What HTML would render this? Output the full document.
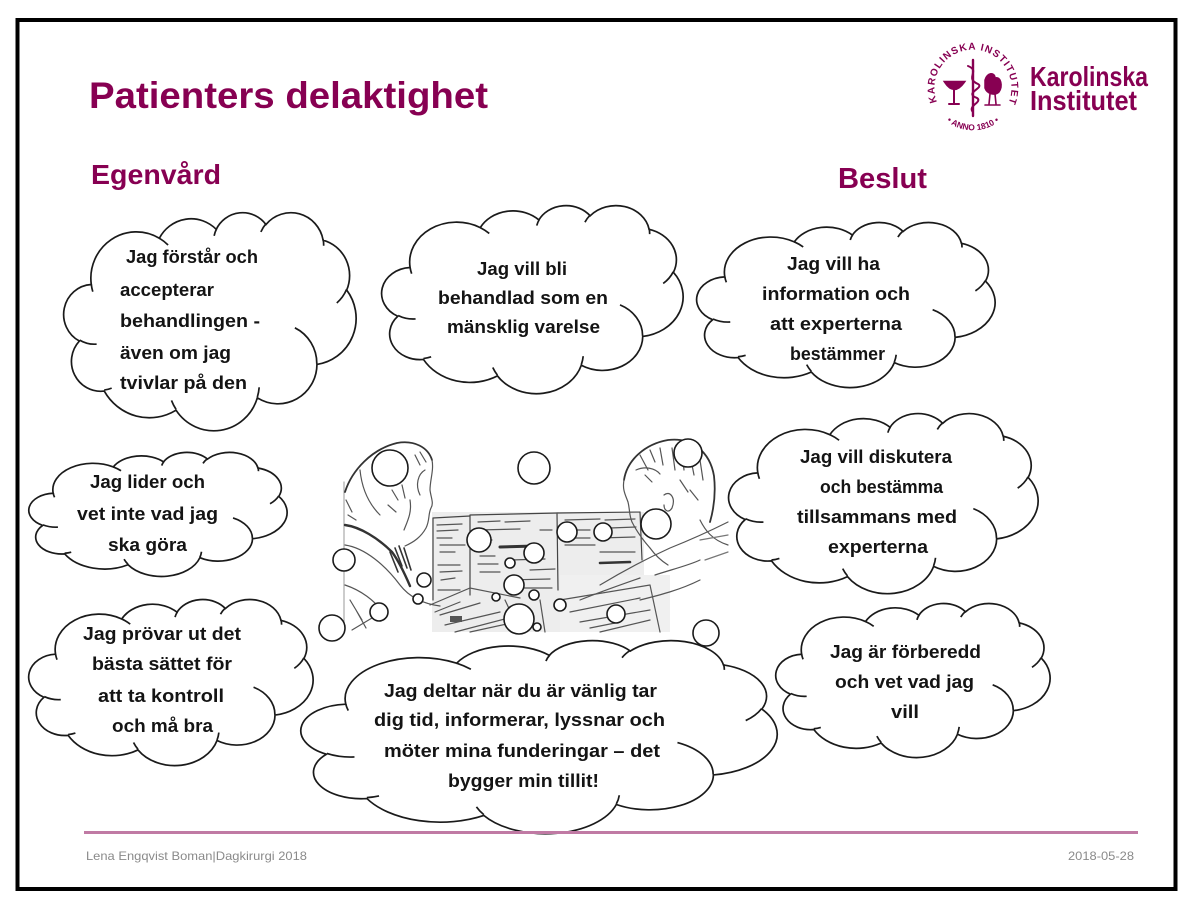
<!DOCTYPE html>
<html><head><meta charset="utf-8">
<style>
html,body{margin:0;padding:0;background:#fff;}
svg{display:block;}
.t{font-family:"Liberation Sans",Arial,sans-serif;font-weight:bold;font-size:18px;fill:#141414;}
.h{font-family:"Liberation Sans",Arial,sans-serif;font-weight:bold;fill:#870052;}
.cl{fill:#fff;stroke:#1a1a1a;stroke-width:1.7;vector-effect:non-scaling-stroke;}
.ci{fill:none;stroke:#1a1a1a;stroke-width:1.7;vector-effect:non-scaling-stroke;}
.b{fill:#fff;stroke:#1a1a1a;stroke-width:1.6;}
.sk{fill:none;stroke:#555;stroke-width:1.2;stroke-linecap:round;}
.f{font-family:"Liberation Sans",Arial,sans-serif;font-size:12px;fill:#8a8a8a;}
</style></head><body>
<svg width="1198" height="909" viewBox="0 0 1198 909" xmlns="http://www.w3.org/2000/svg">
<rect x="0" y="0" width="1198" height="909" fill="#fff"/>

<!-- Title -->
<text class="h" x="89" y="108" font-size="37" textLength="399" lengthAdjust="spacingAndGlyphs">Patienters delaktighet</text>
<text class="h" x="91" y="184" font-size="28" textLength="130" lengthAdjust="spacingAndGlyphs">Egenvård</text>
<text class="h" x="838" y="188" font-size="29" textLength="89" lengthAdjust="spacingAndGlyphs">Beslut</text>

<!-- Logo -->
<g transform="translate(973 88)" fill="#870052" stroke="none">
  <path id="sealTop" d="M-36,14 A38.5,38.5 0 1 1 34,18" fill="none"/>
  <path id="sealBot" d="M-34,25 A42,42 0 0 0 34,25" fill="none"/>
  <text font-family="'Liberation Sans',Arial,sans-serif" font-size="10" font-weight="bold" fill="#870052"><textPath href="#sealTop" textLength="150" lengthAdjust="spacing">KAROLINSKA INSTITUTET</textPath></text>
  <text font-family="'Liberation Sans',Arial,sans-serif" font-size="8.5" font-weight="bold" fill="#870052" text-anchor="middle"><textPath href="#sealBot" startOffset="50%">• ANNO 1810 •</textPath></text>
  <g fill="none" stroke="#870052" stroke-width="2.4" stroke-linecap="round">
    <path d="M0,-28 L0,28"/>
    <path d="M-5,-22 C8,-17 -9,-10 5,-4 C12,0 -10,5 4,10 C10,14 -6,18 0,24" stroke-width="2"/>
    <path d="M-28,-6 Q-19,8 -9,-6 Z" fill="#870052"/>
    <path d="M-19,0 L-19,15 M-24,16 L-14,16" stroke-width="2"/>
    <path d="M12,-8 C14,-16 22,-16 22,-10 C28,-12 30,-2 26,4 C22,8 14,6 12,0 Z" fill="#870052" stroke-width="1.5"/>
    <path d="M17,6 L16,16 M22,6 L23,16 M12,17 L27,17" stroke-width="1.6"/>
  </g>
</g>
<text class="h" x="1030" y="86" font-size="28" textLength="118" lengthAdjust="spacingAndGlyphs">Karolinska</text>
<text class="h" x="1030" y="110" font-size="28" textLength="107" lengthAdjust="spacingAndGlyphs">Institutet</text>

<!-- Photo sketch -->
<rect x="432" y="512" width="212" height="120" fill="#ededed"/>
<rect x="560" y="575" width="110" height="57" fill="#f0f0f0"/>
<g class="sk">
  <path d="M344,482 L344,632" stroke="#aaa"/>
  <!-- woman -->
  <path d="M345,492 C352,470 372,449 397,443 C414,440 428,447 432,460" stroke-width="1.8" stroke="#333"/>
  <path d="M432,460 C434,470 430,480 430,490 C431,498 434,503 431,508 C428,514 430,520 426,528 C421,537 414,542 405,546"/>
  <path d="M425,470 C418,474 415,485 420,495"/>
  <path d="M345,525 C360,527 378,538 392,552 C398,560 404,572 410,586" stroke-width="2.4" stroke="#333"/>
  <path d="M345,545 C365,548 385,565 400,585 C410,598 425,604 440,606"/>
  <path d="M360,470 C362,490 370,505 380,515"/>
  <path d="M410,500 C412,512 408,520 404,530"/>
  <path d="M395,548 L402,566 M399,546 L407,568 M404,548 L411,570 M390,552 L398,572" stroke="#333" stroke-width="1.6"/>
  <path d="M346,500 L352,512 M348,515 L356,520 M350,600 L362,620 M356,610 L366,628"/>
  <path d="M392,490 L398,500 M402,485 L405,498 M388,505 L396,512 M415,455 L420,465 M420,452 L426,462"/>
  <path d="M345,585 C360,590 375,600 385,615 M352,630 L372,618"/>
  <!-- documents -->
  <path d="M433,518 L433,600 M433,518 L470,516" stroke="#444"/>
  <path d="M437,525 L462,524 M437,531 L458,530 M440,545 L465,545 M440,552 L455,552 M438,565 L460,565 M441,580 L455,578 M437,538 L452,538 M440,572 L462,571 M438,590 L460,590"/>
  <path d="M470,515 L470,595 M470,515 L558,513 M557,513 L558,590" stroke="#444"/>
  <path d="M478,522 L500,521 M505,522 L530,521 M478,530 L520,529 M480,556 L495,556 M510,560 L545,559 M530,570 L555,569 M480,572 L500,572 M505,580 L550,579 M478,540 L492,540 M478,564 L498,564 M540,530 L552,530 M520,588 L552,588"/>
  <path d="M500,547 L535,546" stroke-width="3" stroke="#333"/>
  <path d="M558,513 L640,512 M640,512 L642,560" stroke="#444"/>
  <path d="M565,520 L600,519 M605,520 L635,519 M565,530 L590,530 M600,538 L635,537 M565,545 L595,545 M600,552 L635,552 M610,528 L636,527 M565,538 L590,538"/>
  <path d="M600,563 L630,562" stroke-width="2.6" stroke="#333"/>
  <path d="M430,605 L470,588 L520,598 M440,615 L480,603 M445,625 L500,612 M455,632 L520,615 M470,632 L525,620 M435,612 L460,602"/>
  <path d="M505,600 L520,632 M540,600 L545,632"/>
  <path d="M560,600 L650,585 M570,612 L640,598 M580,622 L650,610 M600,632 L650,620 M650,585 L660,632 M590,628 L620,622"/>
  <rect x="450" y="616" width="12" height="6" fill="#555" stroke="none"/>
  <!-- man -->
  <path d="M624,480 C627,460 645,444 668,440 C692,437 710,452 714,476 C716,494 714,508 710,522" stroke-width="1.8" stroke="#333"/>
  <path d="M624,480 C622,490 626,496 628,502 C630,510 629,515 632,522 C637,532 643,540 650,548"/>
  <path d="M636,470 C645,466 655,468 660,474"/>
  <path d="M640,455 L648,470 M650,450 L655,462 M660,448 L663,465 M672,448 L675,470 M682,452 L684,470 M690,455 L694,475 M700,460 L703,480 M645,475 L652,482 M680,480 L688,492 M690,490 L698,500"/>
  <path d="M664,495 C670,490 676,498 672,508 C668,514 664,510 664,505"/>
  <path d="M650,548 C655,555 660,560 668,565 M700,520 C705,530 712,540 728,545"/>
  <path d="M600,585 C625,570 648,558 670,548 C690,540 712,530 728,522"/>
  <path d="M580,600 C600,592 620,585 640,578 M655,575 C670,570 690,565 700,560 M640,600 C660,595 680,590 700,580"/>
  <path d="M700,540 L728,535 M705,560 L728,552" stroke="#777"/>
</g>

<!-- Clouds -->
<g transform="translate(65 212) scale(2.91 2.18)">
  <path class="cl" d="M9.03,33.26A15.63,21.27 0 0 1 32.42,12.04A12.34,16.82 0 0 1 51.97,7.95A10.10,13.76 0 0 1 69.05,5.75A11.24,15.27 0 0 1 88.70,12.91A12.34,16.84 0 0 1 96.80,35.81A15.68,21.34 0 0 1 86.58,69.93A13.39,18.21 0 0 1 66.10,85.23A15.63,21.33 0 0 1 38.16,90.92A17.87,24.41 0 0 1 13.49,82.15A10.09,13.70 0 0 1 4.93,59.19A10.06,13.76 0 0 1 9.03,33.26Z"/>
  <path class="ci" d="M10.86,60.60A10.06,13.76 0 0 1 5.03,58.77M16.04,80.78A10.09,13.70 0 0 1 13.47,81.67M38.14,90.49A15.63,21.33 0 0 1 36.59,86.45M66.73,80.44A15.63,21.33 0 0 1 66.11,84.87M79.00,53.13A13.39,18.21 0 0 1 86.53,69.65M96.75,35.54A12.34,16.84 0 0 1 93.40,41.74M88.71,12.56A11.24,15.27 0 0 1 88.89,15.48M67.31,9.15A11.24,15.27 0 0 1 69.03,5.42M51.25,10.93A10.10,13.76 0 0 1 52.09,7.71M32.41,12.02A15.63,21.27 0 0 1 35.42,15.14M9.55,36.55A15.63,21.27 0 0 1 9.03,33.26"/>
</g>
<g transform="translate(30 452) scale(2.57 1.24)">
  <path class="cl" d="M9.03,33.26A15.63,21.27 0 0 1 32.42,12.04A12.34,16.82 0 0 1 51.97,7.95A10.10,13.76 0 0 1 69.05,5.75A11.24,15.27 0 0 1 88.70,12.91A12.34,16.84 0 0 1 96.80,35.81A15.68,21.34 0 0 1 86.58,69.93A13.39,18.21 0 0 1 66.10,85.23A15.63,21.33 0 0 1 38.16,90.92A17.87,24.41 0 0 1 13.49,82.15A10.09,13.70 0 0 1 4.93,59.19A10.06,13.76 0 0 1 9.03,33.26Z"/>
  <path class="ci" d="M10.86,60.60A10.06,13.76 0 0 1 5.03,58.77M16.04,80.78A10.09,13.70 0 0 1 13.47,81.67M38.14,90.49A15.63,21.33 0 0 1 36.59,86.45M66.73,80.44A15.63,21.33 0 0 1 66.11,84.87M79.00,53.13A13.39,18.21 0 0 1 86.53,69.65M96.75,35.54A12.34,16.84 0 0 1 93.40,41.74M88.71,12.56A11.24,15.27 0 0 1 88.89,15.48M67.31,9.15A11.24,15.27 0 0 1 69.03,5.42M51.25,10.93A10.10,13.76 0 0 1 52.09,7.71M32.41,12.02A15.63,21.27 0 0 1 35.42,15.14M9.55,36.55A15.63,21.27 0 0 1 9.03,33.26"/>
</g>
<g transform="translate(30 599) scale(2.83 1.66)">
  <path class="cl" d="M9.03,33.26A15.63,21.27 0 0 1 32.42,12.04A12.34,16.82 0 0 1 51.97,7.95A10.10,13.76 0 0 1 69.05,5.75A11.24,15.27 0 0 1 88.70,12.91A12.34,16.84 0 0 1 96.80,35.81A15.68,21.34 0 0 1 86.58,69.93A13.39,18.21 0 0 1 66.10,85.23A15.63,21.33 0 0 1 38.16,90.92A17.87,24.41 0 0 1 13.49,82.15A10.09,13.70 0 0 1 4.93,59.19A10.06,13.76 0 0 1 9.03,33.26Z"/>
  <path class="ci" d="M10.86,60.60A10.06,13.76 0 0 1 5.03,58.77M16.04,80.78A10.09,13.70 0 0 1 13.47,81.67M38.14,90.49A15.63,21.33 0 0 1 36.59,86.45M66.73,80.44A15.63,21.33 0 0 1 66.11,84.87M79.00,53.13A13.39,18.21 0 0 1 86.53,69.65M96.75,35.54A12.34,16.84 0 0 1 93.40,41.74M88.71,12.56A11.24,15.27 0 0 1 88.89,15.48M67.31,9.15A11.24,15.27 0 0 1 69.03,5.42M51.25,10.93A10.10,13.76 0 0 1 52.09,7.71M32.41,12.02A15.63,21.27 0 0 1 35.42,15.14M9.55,36.55A15.63,21.27 0 0 1 9.03,33.26"/>
</g>
<g transform="translate(383 205) scale(3.00 1.88)">
  <path class="cl" d="M9.03,33.26A15.63,21.27 0 0 1 32.42,12.04A12.34,16.82 0 0 1 51.97,7.95A10.10,13.76 0 0 1 69.05,5.75A11.24,15.27 0 0 1 88.70,12.91A12.34,16.84 0 0 1 96.80,35.81A15.68,21.34 0 0 1 86.58,69.93A13.39,18.21 0 0 1 66.10,85.23A15.63,21.33 0 0 1 38.16,90.92A17.87,24.41 0 0 1 13.49,82.15A10.09,13.70 0 0 1 4.93,59.19A10.06,13.76 0 0 1 9.03,33.26Z"/>
  <path class="ci" d="M10.86,60.60A10.06,13.76 0 0 1 5.03,58.77M16.04,80.78A10.09,13.70 0 0 1 13.47,81.67M38.14,90.49A15.63,21.33 0 0 1 36.59,86.45M66.73,80.44A15.63,21.33 0 0 1 66.11,84.87M79.00,53.13A13.39,18.21 0 0 1 86.53,69.65M96.75,35.54A12.34,16.84 0 0 1 93.40,41.74M88.71,12.56A11.24,15.27 0 0 1 88.89,15.48M67.31,9.15A11.24,15.27 0 0 1 69.03,5.42M51.25,10.93A10.10,13.76 0 0 1 52.09,7.71M32.41,12.02A15.63,21.27 0 0 1 35.42,15.14M9.55,36.55A15.63,21.27 0 0 1 9.03,33.26"/>
</g>
<g transform="translate(698 222) scale(2.97 1.65)">
  <path class="cl" d="M9.03,33.26A15.63,21.27 0 0 1 32.42,12.04A12.34,16.82 0 0 1 51.97,7.95A10.10,13.76 0 0 1 69.05,5.75A11.24,15.27 0 0 1 88.70,12.91A12.34,16.84 0 0 1 96.80,35.81A15.68,21.34 0 0 1 86.58,69.93A13.39,18.21 0 0 1 66.10,85.23A15.63,21.33 0 0 1 38.16,90.92A17.87,24.41 0 0 1 13.49,82.15A10.09,13.70 0 0 1 4.93,59.19A10.06,13.76 0 0 1 9.03,33.26Z"/>
  <path class="ci" d="M10.86,60.60A10.06,13.76 0 0 1 5.03,58.77M16.04,80.78A10.09,13.70 0 0 1 13.47,81.67M38.14,90.49A15.63,21.33 0 0 1 36.59,86.45M66.73,80.44A15.63,21.33 0 0 1 66.11,84.87M79.00,53.13A13.39,18.21 0 0 1 86.53,69.65M96.75,35.54A12.34,16.84 0 0 1 93.40,41.74M88.71,12.56A11.24,15.27 0 0 1 88.89,15.48M67.31,9.15A11.24,15.27 0 0 1 69.03,5.42M51.25,10.93A10.10,13.76 0 0 1 52.09,7.71M32.41,12.02A15.63,21.27 0 0 1 35.42,15.14M9.55,36.55A15.63,21.27 0 0 1 9.03,33.26"/>
</g>
<g transform="translate(730 413) scale(3.08 1.80)">
  <path class="cl" d="M9.03,33.26A15.63,21.27 0 0 1 32.42,12.04A12.34,16.82 0 0 1 51.97,7.95A10.10,13.76 0 0 1 69.05,5.75A11.24,15.27 0 0 1 88.70,12.91A12.34,16.84 0 0 1 96.80,35.81A15.68,21.34 0 0 1 86.58,69.93A13.39,18.21 0 0 1 66.10,85.23A15.63,21.33 0 0 1 38.16,90.92A17.87,24.41 0 0 1 13.49,82.15A10.09,13.70 0 0 1 4.93,59.19A10.06,13.76 0 0 1 9.03,33.26Z"/>
  <path class="ci" d="M10.86,60.60A10.06,13.76 0 0 1 5.03,58.77M16.04,80.78A10.09,13.70 0 0 1 13.47,81.67M38.14,90.49A15.63,21.33 0 0 1 36.59,86.45M66.73,80.44A15.63,21.33 0 0 1 66.11,84.87M79.00,53.13A13.39,18.21 0 0 1 86.53,69.65M96.75,35.54A12.34,16.84 0 0 1 93.40,41.74M88.71,12.56A11.24,15.27 0 0 1 88.89,15.48M67.31,9.15A11.24,15.27 0 0 1 69.03,5.42M51.25,10.93A10.10,13.76 0 0 1 52.09,7.71M32.41,12.02A15.63,21.27 0 0 1 35.42,15.14M9.55,36.55A15.63,21.27 0 0 1 9.03,33.26"/>
</g>
<g transform="translate(303 640) scale(4.74 1.93)">
  <path class="cl" d="M9.03,33.26A15.63,21.27 0 0 1 32.42,12.04A12.34,16.82 0 0 1 51.97,7.95A10.10,13.76 0 0 1 69.05,5.75A11.24,15.27 0 0 1 88.70,12.91A12.34,16.84 0 0 1 96.80,35.81A15.68,21.34 0 0 1 86.58,69.93A13.39,18.21 0 0 1 66.10,85.23A15.63,21.33 0 0 1 38.16,90.92A17.87,24.41 0 0 1 13.49,82.15A10.09,13.70 0 0 1 4.93,59.19A10.06,13.76 0 0 1 9.03,33.26Z"/>
  <path class="ci" d="M10.86,60.60A10.06,13.76 0 0 1 5.03,58.77M16.04,80.78A10.09,13.70 0 0 1 13.47,81.67M38.14,90.49A15.63,21.33 0 0 1 36.59,86.45M66.73,80.44A15.63,21.33 0 0 1 66.11,84.87M79.00,53.13A13.39,18.21 0 0 1 86.53,69.65M96.75,35.54A12.34,16.84 0 0 1 93.40,41.74M88.71,12.56A11.24,15.27 0 0 1 88.89,15.48M67.31,9.15A11.24,15.27 0 0 1 69.03,5.42M51.25,10.93A10.10,13.76 0 0 1 52.09,7.71M32.41,12.02A15.63,21.27 0 0 1 35.42,15.14M9.55,36.55A15.63,21.27 0 0 1 9.03,33.26"/>
</g>
<g transform="translate(777 603) scale(2.73 1.54)">
  <path class="cl" d="M9.03,33.26A15.63,21.27 0 0 1 32.42,12.04A12.34,16.82 0 0 1 51.97,7.95A10.10,13.76 0 0 1 69.05,5.75A11.24,15.27 0 0 1 88.70,12.91A12.34,16.84 0 0 1 96.80,35.81A15.68,21.34 0 0 1 86.58,69.93A13.39,18.21 0 0 1 66.10,85.23A15.63,21.33 0 0 1 38.16,90.92A17.87,24.41 0 0 1 13.49,82.15A10.09,13.70 0 0 1 4.93,59.19A10.06,13.76 0 0 1 9.03,33.26Z"/>
  <path class="ci" d="M10.86,60.60A10.06,13.76 0 0 1 5.03,58.77M16.04,80.78A10.09,13.70 0 0 1 13.47,81.67M38.14,90.49A15.63,21.33 0 0 1 36.59,86.45M66.73,80.44A15.63,21.33 0 0 1 66.11,84.87M79.00,53.13A13.39,18.21 0 0 1 86.53,69.65M96.75,35.54A12.34,16.84 0 0 1 93.40,41.74M88.71,12.56A11.24,15.27 0 0 1 88.89,15.48M67.31,9.15A11.24,15.27 0 0 1 69.03,5.42M51.25,10.93A10.10,13.76 0 0 1 52.09,7.71M32.41,12.02A15.63,21.27 0 0 1 35.42,15.14M9.55,36.55A15.63,21.27 0 0 1 9.03,33.26"/>
</g>

<!-- Bubbles -->
<g class="b">
  <circle cx="390" cy="468" r="18"/>
  <circle cx="534" cy="468" r="16"/>
  <circle cx="688" cy="453" r="14"/>
  <circle cx="656" cy="524" r="15"/>
  <circle cx="479" cy="540" r="12"/>
  <circle cx="567" cy="532" r="10"/>
  <circle cx="603" cy="532" r="9"/>
  <circle cx="534" cy="553" r="10"/>
  <circle cx="344" cy="560" r="11"/>
  <circle cx="510" cy="563" r="5"/>
  <circle cx="514" cy="585" r="10"/>
  <circle cx="424" cy="580" r="7"/>
  <circle cx="418" cy="599" r="5"/>
  <circle cx="496" cy="597" r="4"/>
  <circle cx="534" cy="595" r="5"/>
  <circle cx="560" cy="605" r="6"/>
  <circle cx="379" cy="612" r="9"/>
  <circle cx="537" cy="627" r="4"/>
  <circle cx="519" cy="619" r="15"/>
  <circle cx="616" cy="614" r="9"/>
  <circle cx="332" cy="628" r="13"/>
  <circle cx="706" cy="633" r="13"/>
</g>

<!-- Cloud texts -->
<text class="t" x="126" y="263" textLength="132" lengthAdjust="spacingAndGlyphs">Jag förstår och</text>
<text class="t" x="120" y="296" textLength="94" lengthAdjust="spacingAndGlyphs">accepterar</text>
<text class="t" x="120" y="327" textLength="140" lengthAdjust="spacingAndGlyphs">behandlingen -</text>
<text class="t" x="120" y="359" textLength="111" lengthAdjust="spacingAndGlyphs">även om jag</text>
<text class="t" x="120" y="389" textLength="127" lengthAdjust="spacingAndGlyphs">tvivlar på den</text>

<text class="t" x="90" y="488" textLength="115" lengthAdjust="spacingAndGlyphs">Jag lider och</text>
<text class="t" x="77" y="520" textLength="141" lengthAdjust="spacingAndGlyphs">vet inte vad jag</text>
<text class="t" x="108" y="551" textLength="79" lengthAdjust="spacingAndGlyphs">ska göra</text>

<text class="t" x="83" y="640" textLength="158" lengthAdjust="spacingAndGlyphs">Jag prövar ut det</text>
<text class="t" x="92" y="670" textLength="140" lengthAdjust="spacingAndGlyphs">bästa sättet för</text>
<text class="t" x="98" y="702" textLength="126" lengthAdjust="spacingAndGlyphs">att ta kontroll</text>
<text class="t" x="112" y="732" textLength="101" lengthAdjust="spacingAndGlyphs">och må bra</text>

<text class="t" x="477" y="275" textLength="90" lengthAdjust="spacingAndGlyphs">Jag vill bli</text>
<text class="t" x="438" y="304" textLength="170" lengthAdjust="spacingAndGlyphs">behandlad som en</text>
<text class="t" x="447" y="333" textLength="153" lengthAdjust="spacingAndGlyphs">mänsklig varelse</text>

<text class="t" x="787" y="270" textLength="93" lengthAdjust="spacingAndGlyphs">Jag vill ha</text>
<text class="t" x="762" y="300" textLength="148" lengthAdjust="spacingAndGlyphs">information och</text>
<text class="t" x="770" y="330" textLength="132" lengthAdjust="spacingAndGlyphs">att experterna</text>
<text class="t" x="790" y="360" textLength="95" lengthAdjust="spacingAndGlyphs">bestämmer</text>

<text class="t" x="800" y="463" textLength="152" lengthAdjust="spacingAndGlyphs">Jag vill diskutera</text>
<text class="t" x="820" y="493" textLength="123" lengthAdjust="spacingAndGlyphs">och bestämma</text>
<text class="t" x="797" y="523" textLength="160" lengthAdjust="spacingAndGlyphs">tillsammans med</text>
<text class="t" x="828" y="553" textLength="100" lengthAdjust="spacingAndGlyphs">experterna</text>

<text class="t" x="384" y="697" textLength="273" lengthAdjust="spacingAndGlyphs">Jag deltar när du är vänlig tar</text>
<text class="t" x="374" y="726" textLength="291" lengthAdjust="spacingAndGlyphs">dig tid, informerar, lyssnar och</text>
<text class="t" x="384" y="757" textLength="276" lengthAdjust="spacingAndGlyphs">möter mina funderingar – det</text>
<text class="t" x="448" y="787" textLength="151" lengthAdjust="spacingAndGlyphs">bygger min tillit!</text>

<text class="t" x="830" y="658" textLength="151" lengthAdjust="spacingAndGlyphs">Jag är förberedd</text>
<text class="t" x="835" y="688" textLength="139" lengthAdjust="spacingAndGlyphs">och vet vad jag</text>
<text class="t" x="891" y="718" textLength="28" lengthAdjust="spacingAndGlyphs">vill</text>

<!-- Footer -->
<rect x="84" y="831" width="1054" height="3" fill="#c07aa4"/>
<text class="f" x="86" y="860" textLength="221" lengthAdjust="spacingAndGlyphs">Lena Engqvist Boman|Dagkirurgi 2018</text>
<text class="f" x="1068" y="860" textLength="66" lengthAdjust="spacingAndGlyphs">2018-05-28</text>

<!-- Border -->
<rect x="17.5" y="20" width="1158" height="869" fill="none" stroke="#000" stroke-width="4"/>
</svg>
</body></html>
